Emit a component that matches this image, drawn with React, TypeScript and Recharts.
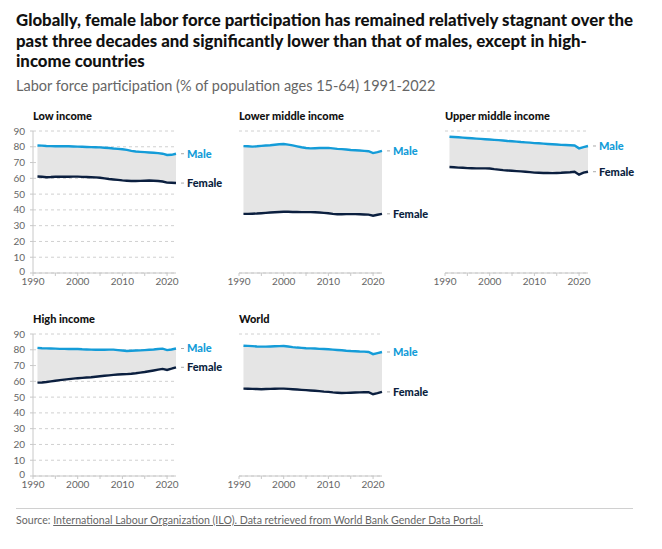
import { ComposedChart, Line, Area, XAxis, YAxis, CartesianGrid } from 'recharts';

const years = [
  1991, 1992, 1993, 1994, 1995, 1996, 1997, 1998, 1999, 2000, 2001, 2002, 2003, 2004, 2005, 2006,
  2007, 2008, 2009, 2010, 2011, 2012, 2013, 2014, 2015, 2016, 2017, 2018, 2019, 2020, 2021, 2022,
];

const lowMale = [80.8, 80.7, 80.5, 80.4, 80.3, 80.3, 80.4, 80.3, 80.2, 80.1, 80.0, 79.9, 79.8, 79.7, 79.6, 79.4, 79.2, 78.9, 78.7, 78.4, 78.0, 77.4, 77.0, 76.8, 76.6, 76.4, 76.2, 76.0, 75.6, 74.8, 74.9, 75.6];
const lowFemale = [61.2, 61.0, 60.7, 60.8, 61.0, 61.0, 61.1, 61.0, 61.1, 61.1, 60.9, 60.8, 60.7, 60.6, 60.4, 60.0, 59.6, 59.3, 59.0, 58.7, 58.5, 58.3, 58.3, 58.4, 58.5, 58.6, 58.5, 58.3, 58.0, 57.3, 57.2, 57.0];

const lowerMidMale = [80.4, 80.3, 80.1, 80.3, 80.6, 80.8, 81.0, 81.3, 81.6, 81.8, 81.4, 80.9, 80.3, 79.7, 79.2, 79.0, 79.1, 79.2, 79.2, 79.3, 79.0, 78.7, 78.5, 78.3, 78.0, 77.8, 77.6, 77.4, 77.2, 76.0, 76.6, 77.4];
const lowerMidFemale = [37.5, 37.5, 37.6, 37.7, 37.9, 38.1, 38.3, 38.5, 38.7, 38.8, 38.8, 38.7, 38.7, 38.6, 38.6, 38.6, 38.5, 38.3, 38.1, 37.9, 37.5, 37.2, 37.2, 37.3, 37.3, 37.3, 37.2, 37.1, 37.0, 36.3, 36.9, 37.5];

const upperMidMale = [86.4, 86.2, 86.0, 85.8, 85.6, 85.4, 85.2, 85.0, 84.8, 84.6, 84.4, 84.2, 84.0, 83.7, 83.5, 83.3, 83.0, 82.8, 82.6, 82.3, 82.2, 82.0, 81.8, 81.6, 81.4, 81.2, 81.1, 81.0, 80.8, 79.0, 79.8, 80.5];
const upperMidFemale = [67.2, 67.0, 66.8, 66.7, 66.5, 66.4, 66.3, 66.3, 66.3, 66.2, 65.8, 65.5, 65.2, 65.0, 64.8, 64.6, 64.4, 64.2, 63.9, 63.6, 63.5, 63.4, 63.4, 63.3, 63.4, 63.5, 63.7, 63.9, 64.2, 62.3, 63.6, 64.2];

const highMale = [81.2, 81.0, 80.9, 80.8, 80.7, 80.6, 80.6, 80.5, 80.5, 80.5, 80.3, 80.2, 80.1, 80.0, 80.0, 80.0, 80.1, 80.1, 79.8, 79.5, 79.2, 79.4, 79.5, 79.6, 79.8, 80.0, 80.2, 80.5, 80.7, 79.8, 80.2, 80.8];
const highFemale = [59.2, 59.3, 59.6, 60.0, 60.4, 60.8, 61.1, 61.4, 61.7, 62.0, 62.2, 62.4, 62.6, 62.9, 63.2, 63.5, 63.8, 64.1, 64.3, 64.5, 64.6, 64.8, 65.1, 65.5, 65.9, 66.4, 66.9, 67.4, 67.9, 67.2, 68.0, 68.9];

const worldMale = [82.6, 82.5, 82.3, 82.1, 82.0, 82.0, 82.1, 82.2, 82.3, 82.4, 82.1, 81.7, 81.4, 81.2, 81.0, 80.9, 80.8, 80.6, 80.5, 80.3, 80.1, 79.9, 79.7, 79.4, 79.2, 79.1, 78.9, 78.8, 78.6, 77.2, 77.9, 78.6];
const worldFemale = [55.4, 55.3, 55.2, 55.1, 55.0, 55.1, 55.2, 55.3, 55.4, 55.4, 55.2, 55.0, 54.8, 54.6, 54.4, 54.2, 54.0, 53.8, 53.5, 53.3, 53.0, 52.8, 52.6, 52.7, 52.8, 52.9, 53.0, 53.1, 53.1, 51.8, 52.5, 53.3];

const xTicks = [1990, 1995, 2000, 2005, 2010, 2015, 2020];
const yTicks = [0, 10, 20, 30, 40, 50, 60, 70, 80, 90];

const MALE = '#149cd8';
const FEMALE = '#0b1f3f';
const FONT = 'Lato, "Noto Sans", sans-serif';

const panels = [
  { title: 'Low income', male: lowMale, female: lowFemale, x: 33, y: 131, showY: true },
  { title: 'Lower middle income', male: lowerMidMale, female: lowerMidFemale, x: 239, y: 131, showY: false },
  { title: 'Upper middle income', male: upperMidMale, female: upperMidFemale, x: 445, y: 131, showY: false },
  { title: 'High income', male: highMale, female: highFemale, x: 33, y: 334, showY: true },
  { title: 'World', male: worldMale, female: worldFemale, x: 239, y: 334, showY: false },
];

const PLOT_W = 143;
const PLOT_H = 142;
const Y_W = 33;
const TOP = 10;

function endLabel(text: string, color: string, last: number) {
  return (p: any) => {
    if (p.index !== last) return <g />;
    return (
      <g>
        <line x1={p.x + 5} x2={p.x + 8} y1={p.y} y2={p.y} stroke="#aaa" strokeWidth={1} />
        <text x={p.x + 11} y={p.y} dy="0.35em" fill={color} fontSize={11} fontWeight={900} fontFamily={FONT}>
          {text}
        </text>
      </g>
    );
  };
}

// y tick: nudge the zero label up a little so it clears the first year label
function YTick(props: any) {
  const { x, y, payload } = props;
  const lift = payload.value === 0 ? -2 : 0;
  return (
    <text x={x} y={y + lift} dy="0.35em" textAnchor="end" fontSize={10} fill="#666" fontFamily={FONT}>
      {payload.value}
    </text>
  );
}

function Panel({ title, male, female, x, y, showY }: any) {
  const data = years.map((yr, i) => ({ year: yr, male: male[i], female: female[i] }));
  const last = data.length - 1;
  return (
    <>
      <div style={{ position: 'absolute', left: x, top: y - 22, fontSize: 11, fontWeight: 900, color: '#111', fontFamily: FONT }}>
        {title}
      </div>
      <div style={{ position: 'absolute', left: x - Y_W, top: y - TOP }}>
        <ComposedChart width={Y_W + PLOT_W + 60} height={TOP + PLOT_H + 24} data={data} margin={{ top: TOP, right: 60, bottom: 0, left: 0 }}>
          <CartesianGrid horizontal vertical={false} stroke="#d0d0d0" strokeDasharray="3 3" />
          <XAxis
            dataKey="year"
            type="number"
            domain={[1990, 2022]}
            ticks={xTicks}
            tickFormatter={(v: number) => (v % 10 === 0 ? String(v) : '')}
            tick={{ fontSize: 10, fill: '#666', fontFamily: FONT }}
            stroke="#c8c8c8"
            tickSize={3}
            tickMargin={2}
            height={24}
            interval={0}
          />
          <YAxis
            domain={[0, 90]}
            ticks={yTicks}
            width={Y_W}
            tick={showY ? <YTick /> : false}
            axisLine={showY ? { stroke: '#c8c8c8' } : false}
            tickLine={showY ? { stroke: '#c8c8c8' } : false}
            tickSize={3}
            tickMargin={5}
            interval={0}
          />
          <Area
            dataKey={(d: any) => [d.female, d.male]}
            stroke="none"
            fill="#e5e5e5"
            fillOpacity={1}
            isAnimationActive={false}
          />
          <Line dataKey="male" stroke={MALE} strokeWidth={2.4} dot={false} isAnimationActive={false} label={endLabel('Male', MALE, last)} />
          <Line dataKey="female" stroke={FEMALE} strokeWidth={2.4} dot={false} isAnimationActive={false} label={endLabel('Female', FEMALE, last)} />
        </ComposedChart>
      </div>
    </>
  );
}

export default function App() {
  return (
    <div style={{ position: 'absolute', left: 0, top: 0, width: 662, height: 549, background: '#fff', fontFamily: FONT }}>
      <div style={{ position: 'absolute', left: 16, top: 10, fontSize: 16.8, fontWeight: 900, lineHeight: '20.5px', color: '#111' }}>
        <div>Globally, female labor force participation has remained relatively stagnant over the</div>
        <div>past three decades and significantly lower than that of males, except in high-</div>
        <div>income countries</div>
      </div>
      <div style={{ position: 'absolute', left: 16, top: 77, fontSize: 14.5, color: '#666' }}>
        Labor force participation (% of population ages 15-64) 1991-2022
      </div>
      {panels.map((p) => (
        <Panel key={p.title} {...p} />
      ))}
      <div style={{ position: 'absolute', left: 16, top: 508, width: 617, borderTop: '1px solid #d0d0d0' }} />
      <div style={{ position: 'absolute', left: 16, top: 514, fontSize: 10.6, color: '#666' }}>
        Source: <span style={{ textDecoration: 'underline' }}>International Labour Organization (ILO). Data retrieved from World Bank Gender Data Portal.</span>
      </div>
    </div>
  );
}
